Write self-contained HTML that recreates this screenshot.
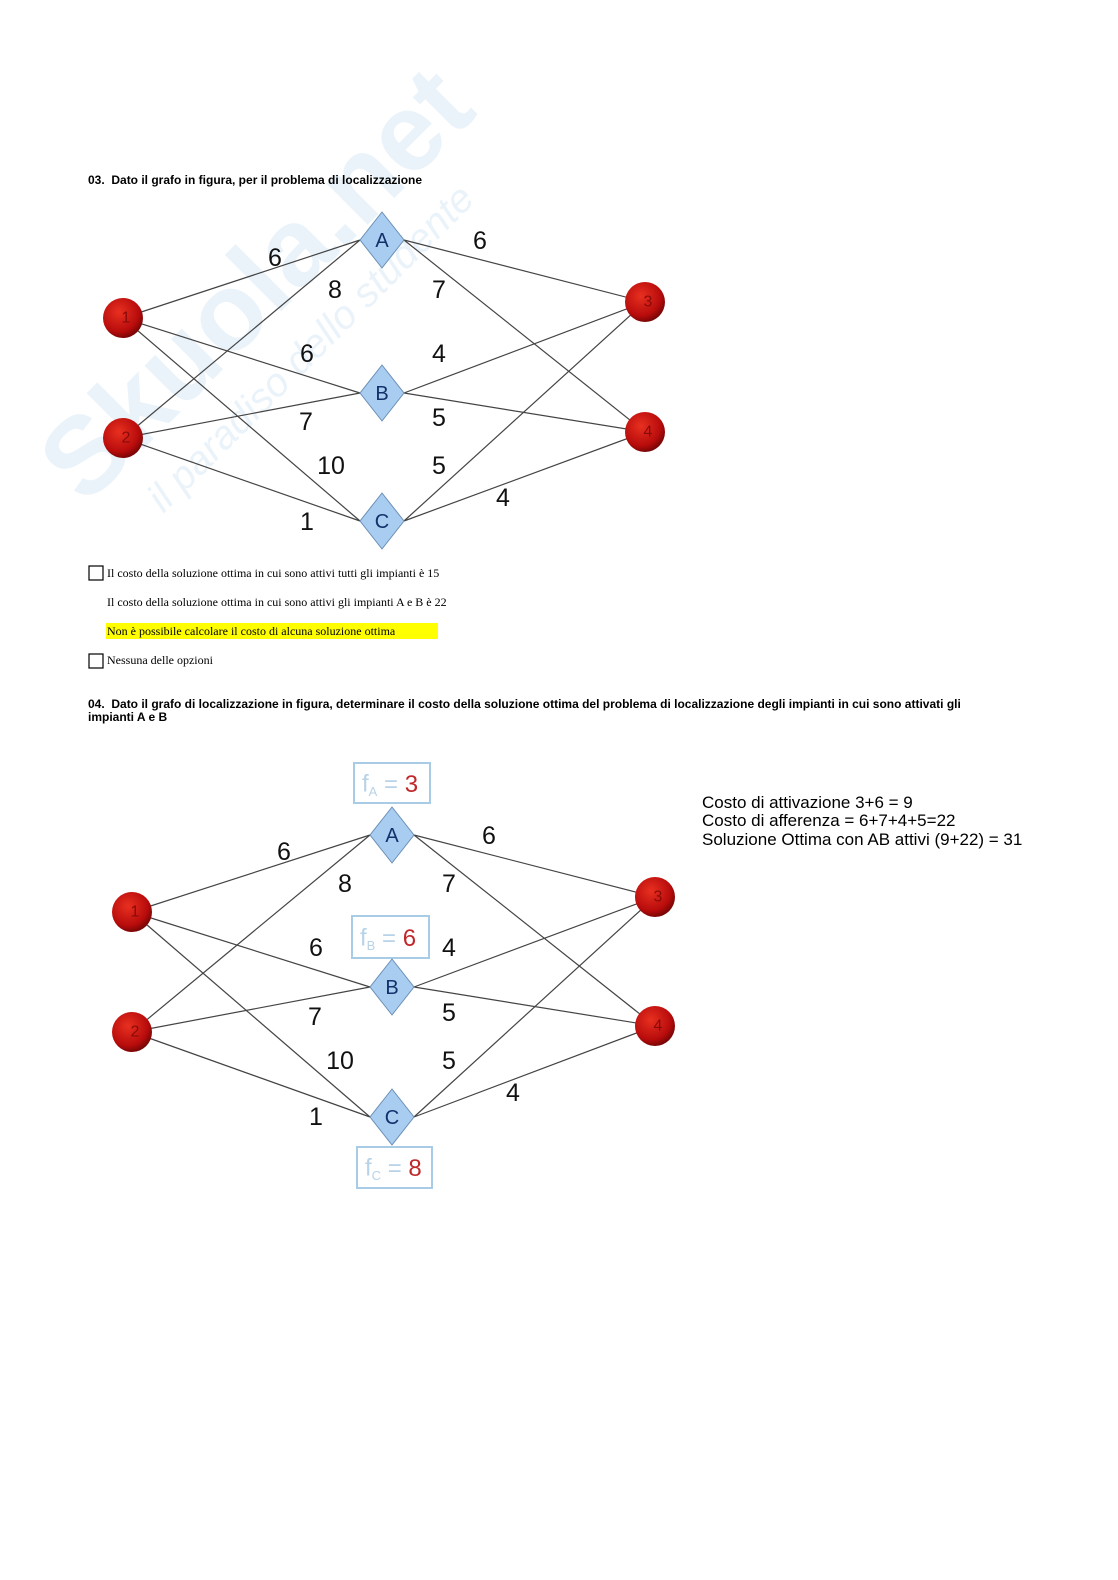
<!DOCTYPE html>
<html><head><meta charset="utf-8"><style>
body{margin:0;background:#fff;}
svg{display:block;}
</style></head><body>
<svg width="1118" height="1580" viewBox="0 0 1118 1580" xmlns="http://www.w3.org/2000/svg">
<defs>
<radialGradient id="rg" cx="0.4" cy="0.35" r="0.7">
<stop offset="0" stop-color="#e83020"/><stop offset="0.7" stop-color="#b80c0c"/><stop offset="1" stop-color="#6a0404"/>
</radialGradient>
</defs>
<!-- watermark -->
<g opacity="0.1" transform="translate(-40,30) rotate(-45 260 300)">
<text x="40" y="330" font-family="Liberation Sans, sans-serif" font-weight="bold" font-size="110" fill="#3b8fd6">Skuola.net</text>
<text x="90" y="390" font-family="Liberation Sans, sans-serif" font-style="italic" font-size="40" fill="#3b8fd6">il paradiso dello studente</text>
</g>
<g font-family="Liberation Sans, sans-serif" fill="#000">
<text x="88" y="184" font-size="12" font-weight="bold">03.&#160; Dato il grafo in figura, per il problema di localizzazione</text>
</g>

<!-- Graph 1 -->
<g stroke="#444" stroke-width="1.2">
<line x1="123" y1="318" x2="360" y2="240"/><line x1="123" y1="318" x2="360" y2="393"/><line x1="123" y1="318" x2="360" y2="521"/>
<line x1="123" y1="438" x2="360" y2="240"/><line x1="123" y1="438" x2="360" y2="393"/><line x1="123" y1="438" x2="360" y2="521"/>
<line x1="404" y1="240" x2="645" y2="302"/><line x1="404" y1="240" x2="645" y2="432"/>
<line x1="404" y1="393" x2="645" y2="302"/><line x1="404" y1="393" x2="645" y2="432"/>
<line x1="404" y1="521" x2="645" y2="302"/><line x1="404" y1="521" x2="645" y2="432"/>
</g>
<g fill="#a9cdf0" stroke="#6a8fb5" stroke-width="1">
<polygon points="382,212 404,240 382,268 360,240"/>
<polygon points="382,365 404,393 382,421 360,393"/>
<polygon points="382,493 404,521 382,549 360,521"/>
</g>
<g font-family="Liberation Sans, sans-serif" font-size="20" fill="#13306b" text-anchor="middle" dominant-baseline="central">
<text x="382" y="241">A</text><text x="382" y="394">B</text><text x="382" y="522">C</text>
</g>
<g fill="url(#rg)">
<circle cx="123" cy="318" r="20"/><circle cx="123" cy="438" r="20"/><circle cx="645" cy="302" r="20"/><circle cx="645" cy="432" r="20"/>
</g>
<g font-family="Liberation Sans, sans-serif" font-size="16" fill="#8a0a0a" text-anchor="middle" dominant-baseline="central">
<text x="126" y="318">1</text><text x="126" y="438">2</text><text x="648" y="302">3</text><text x="648" y="432">4</text>
</g>
<g font-family="Liberation Sans, sans-serif" font-size="25" fill="#111" text-anchor="middle" dominant-baseline="central">
<text x="275" y="258">6</text><text x="335" y="290">8</text><text x="307" y="354">6</text><text x="306" y="422">7</text><text x="331" y="466">10</text><text x="307" y="522">1</text>
<text x="480" y="241">6</text><text x="439" y="290">7</text><text x="439" y="354">4</text><text x="439" y="418">5</text><text x="439" y="466">5</text><text x="503" y="498">4</text>
</g>

<!-- options -->
<rect x="89" y="566" width="14" height="14" fill="none" stroke="#000" stroke-width="1.2"/>
<rect x="89" y="654" width="14" height="14" fill="none" stroke="#000" stroke-width="1.2"/>
<rect x="106" y="623" width="332" height="16" fill="#ffff00"/>
<g font-family="Liberation Serif, serif" font-size="12" fill="#000">
<text x="107" y="577">Il costo della soluzione ottima in cui sono attivi tutti gli impianti è 15</text>
<text x="107" y="606">Il costo della soluzione ottima in cui sono attivi gli impianti A e B è 22</text>
<text x="107" y="635">Non è possibile calcolare il costo di alcuna soluzione ottima</text>
<text x="107" y="664">Nessuna delle opzioni</text>
</g>
<g font-family="Liberation Sans, sans-serif" font-size="12" font-weight="bold" fill="#000">
<text x="88" y="708">04.&#160; Dato il grafo di localizzazione in figura, determinare il costo della soluzione ottima del problema di localizzazione degli impianti in cui sono attivati gli</text>
<text x="88" y="721">impianti A e B</text>
</g>

<!-- Graph 2 -->
<g stroke="#444" stroke-width="1.2">
<line x1="132" y1="912" x2="370" y2="835"/><line x1="132" y1="912" x2="370" y2="987"/><line x1="132" y1="912" x2="370" y2="1117"/>
<line x1="132" y1="1032" x2="370" y2="835"/><line x1="132" y1="1032" x2="370" y2="987"/><line x1="132" y1="1032" x2="370" y2="1117"/>
<line x1="414" y1="835" x2="655" y2="897"/><line x1="414" y1="835" x2="655" y2="1026"/>
<line x1="414" y1="987" x2="655" y2="897"/><line x1="414" y1="987" x2="655" y2="1026"/>
<line x1="414" y1="1117" x2="655" y2="897"/><line x1="414" y1="1117" x2="655" y2="1026"/>
</g>
<g fill="#fff" stroke="#a8cce6" stroke-width="2">
<rect x="354" y="763" width="76" height="40"/>
<rect x="352" y="916" width="77" height="42"/>
<rect x="357" y="1147" width="75" height="41"/>
</g>
<g font-family="Liberation Sans, sans-serif" font-size="24" dominant-baseline="central">
<text x="362" y="784" fill="#b8d3e8">f<tspan font-size="13" dy="7">A</tspan><tspan dy="-7"> = </tspan><tspan fill="#c0282a">3</tspan></text>
<text x="360" y="938" fill="#b8d3e8">f<tspan font-size="13" dy="7">B</tspan><tspan dy="-7"> = </tspan><tspan fill="#c0282a">6</tspan></text>
<text x="365" y="1168" fill="#b8d3e8">f<tspan font-size="13" dy="7">C</tspan><tspan dy="-7"> = </tspan><tspan fill="#c0282a">8</tspan></text>
</g>
<g fill="#a9cdf0" stroke="#6a8fb5" stroke-width="1">
<polygon points="392,807 414,835 392,863 370,835"/>
<polygon points="392,959 414,987 392,1015 370,987"/>
<polygon points="392,1089 414,1117 392,1145 370,1117"/>
</g>
<g font-family="Liberation Sans, sans-serif" font-size="20" fill="#13306b" text-anchor="middle" dominant-baseline="central">
<text x="392" y="836">A</text><text x="392" y="988">B</text><text x="392" y="1118">C</text>
</g>
<g fill="url(#rg)">
<circle cx="132" cy="912" r="20"/><circle cx="132" cy="1032" r="20"/><circle cx="655" cy="897" r="20"/><circle cx="655" cy="1026" r="20"/>
</g>
<g font-family="Liberation Sans, sans-serif" font-size="16" fill="#8a0a0a" text-anchor="middle" dominant-baseline="central">
<text x="135" y="912">1</text><text x="135" y="1032">2</text><text x="658" y="897">3</text><text x="658" y="1026">4</text>
</g>
<g font-family="Liberation Sans, sans-serif" font-size="25" fill="#111" text-anchor="middle" dominant-baseline="central">
<text x="284" y="852">6</text><text x="345" y="884">8</text><text x="316" y="948">6</text><text x="315" y="1017">7</text><text x="340" y="1061">10</text><text x="316" y="1117">1</text>
<text x="489" y="836">6</text><text x="449" y="884">7</text><text x="449" y="948">4</text><text x="449" y="1013">5</text><text x="449" y="1061">5</text><text x="513" y="1093">4</text>
</g>
<g font-family="Liberation Sans, sans-serif" font-size="17" fill="#000">
<text x="702" y="808">Costo di attivazione 3+6 = 9</text>
<text x="702" y="826">Costo di afferenza = 6+7+4+5=22</text>
<text x="702" y="845">Soluzione Ottima con AB attivi (9+22) = 31</text>
</g>
</svg>
</body></html>
